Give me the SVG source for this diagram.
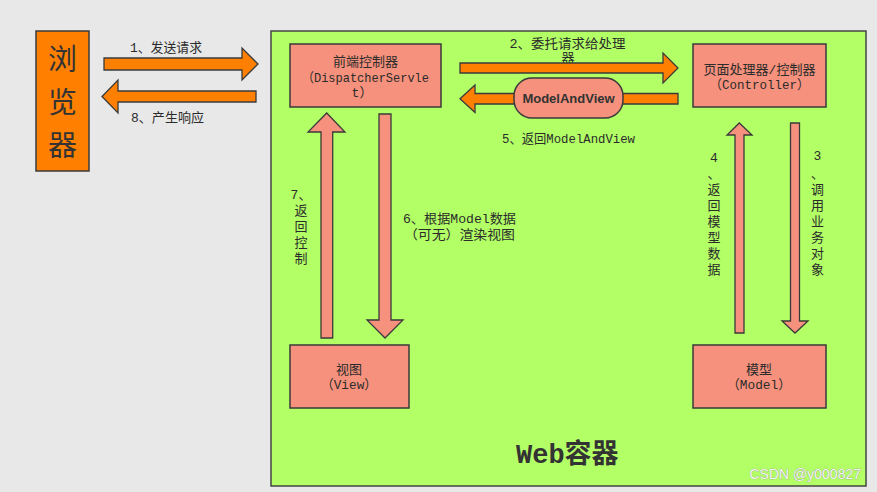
<svg xmlns="http://www.w3.org/2000/svg" width="877" height="492" viewBox="0 0 877 492">
<style>
.box{fill:#f5917c;stroke:#3a3a3a;stroke-width:1.5}
.or{fill:#ff8000;stroke:#3a3a3a;stroke-width:1.3}
.sa{fill:#f5917c;stroke:#3a3a3a;stroke-width:1.3}
.t{font-family:"Liberation Mono","Noto Sans CJK SC",monospace;font-size:13px;fill:#2b2b2b}
.c{text-anchor:middle}
.bw{font-family:"Noto Sans CJK SC",sans-serif;font-size:29px;fill:#333;text-anchor:middle}
</style>
<rect x="0" y="0" width="877" height="492" fill="#e8e8e8"/>
<g id="web-container">
<rect x="271" y="31" width="595" height="455" fill="#b3ff66" stroke="#444" stroke-width="1.5"/>
<text x="516" y="463" style="font-family:'Liberation Mono','Noto Sans CJK SC',monospace;font-size:27px;font-weight:bold;fill:#333">Web容器</text>
</g>
<g id="browser">
<rect x="36" y="31" width="53" height="140" fill="#ff8000" stroke="#3a3a3a" stroke-width="1.5"/>
<text class="bw" x="62.5" y="70">浏</text>
<text class="bw" x="62.5" y="113">览</text>
<text class="bw" x="62.5" y="156">器</text>
</g>
<g id="front-controller">
<rect class="box" x="290" y="44" width="151" height="63"/>
<text class="t c" x="365.5" y="66">前端控制器</text>
<text class="t c" x="365.5" y="82" textLength="127" lengthAdjust="spacingAndGlyphs">（DispatcherServle</text>
<text class="t c" x="362" y="97">t）</text>
</g>
<g id="controller">
<rect class="box" x="693" y="44" width="133" height="63"/>
<text class="t c" x="759.5" y="73.5">页面处理器/控制器</text>
<text class="t c" x="759.5" y="89" textLength="100" lengthAdjust="spacingAndGlyphs">（Controller）</text>
</g>
<g id="view">
<rect class="box" x="290" y="345" width="119" height="63"/>
<text class="t c" x="349" y="374">视图</text>
<text class="t c" x="349" y="389" textLength="56" lengthAdjust="spacingAndGlyphs">（View）</text>
</g>
<g id="model">
<rect class="box" x="693" y="345" width="133" height="63"/>
<text class="t c" x="759" y="374">模型</text>
<text class="t c" x="759" y="389" textLength="64" lengthAdjust="spacingAndGlyphs">（Model）</text>
</g>
<g id="connectors">
<text class="t" x="130" y="52" textLength="72" lengthAdjust="spacingAndGlyphs">1、发送请求</text>
<polygon class="or" points="104,58 242,58 242,48 258,64 242,80 242,70 104,70"/>
<text class="t" x="131" y="122" textLength="73" lengthAdjust="spacingAndGlyphs">8、产生响应</text>
<polygon class="or" points="256,91 118,91 118,80 102,96.5 118,113 118,102 256,102"/>
<text class="t c" x="567.5" y="48" textLength="116" lengthAdjust="spacingAndGlyphs">2、委托请求给处理</text>
<text class="t c" x="568" y="62">器</text>
<polygon class="or" points="460,63 663,63 663,53 678,68 663,83 663,73 460,73"/>
<polygon class="or" points="678,93.5 475,93.5 475,85 460,98.7 475,112.5 475,104 678,104"/>
<g id="model-and-view">
<rect x="514" y="78" width="109" height="40" rx="18" fill="#f5917c" stroke="#3a3a3a" stroke-width="1.5"/>
<text x="568.5" y="103" text-anchor="middle" style="font-family:'Liberation Sans',Arial,sans-serif;font-size:13px;font-weight:bold;fill:#333">ModelAndView</text>
</g>
<text class="t" x="502" y="143" textLength="133" lengthAdjust="spacingAndGlyphs">5、返回ModelAndView</text>
<polygon class="sa" points="321,338 321,132 308,132 326.7,113 345,132 332.7,132 332.7,338"/>
<polygon class="sa" points="379,114 391,114 391,320 403,320 385,338 367,320 379,320"/>
<text class="t c" x="301" y="199">7、</text>
<text class="t c"><tspan x="301" y="215">返</tspan><tspan x="301" y="231">回</tspan><tspan x="301" y="247">控</tspan><tspan x="301" y="263">制</tspan></text>
<text class="t" x="403" y="223" textLength="113" lengthAdjust="spacingAndGlyphs">6、根据Model数据</text>
<text class="t" x="404" y="239" textLength="111" lengthAdjust="spacingAndGlyphs">（可无）渲染视图</text>
<polygon class="sa" points="735,333 735,135 727,135 739.3,123 752,135 744,135 744,333"/>
<polygon class="sa" points="790.5,123 799.5,123 799.5,321 808,321 795,333 782,321 790.5,321"/>
<text class="t c"><tspan x="714" y="162">4</tspan><tspan x="714" y="178">、</tspan><tspan x="714" y="194">返</tspan><tspan x="714" y="210">回</tspan><tspan x="714" y="226">模</tspan><tspan x="714" y="242">型</tspan><tspan x="714" y="258">数</tspan><tspan x="714" y="274">据</tspan></text>
<text class="t c"><tspan x="817.5" y="160">3</tspan><tspan x="817.5" y="178">、</tspan><tspan x="817.5" y="194">调</tspan><tspan x="817.5" y="210">用</tspan><tspan x="817.5" y="226">业</tspan><tspan x="817.5" y="242">务</tspan><tspan x="817.5" y="258">对</tspan><tspan x="817.5" y="274">象</tspan></text>
</g>
<text x="861" y="479" text-anchor="end" style="font-family:'Liberation Sans',Arial,sans-serif;font-size:14px;fill:#f4f4f4;stroke:#8a8a8a;stroke-width:0.5;paint-order:stroke">CSDN @y000827</text>
</svg>
